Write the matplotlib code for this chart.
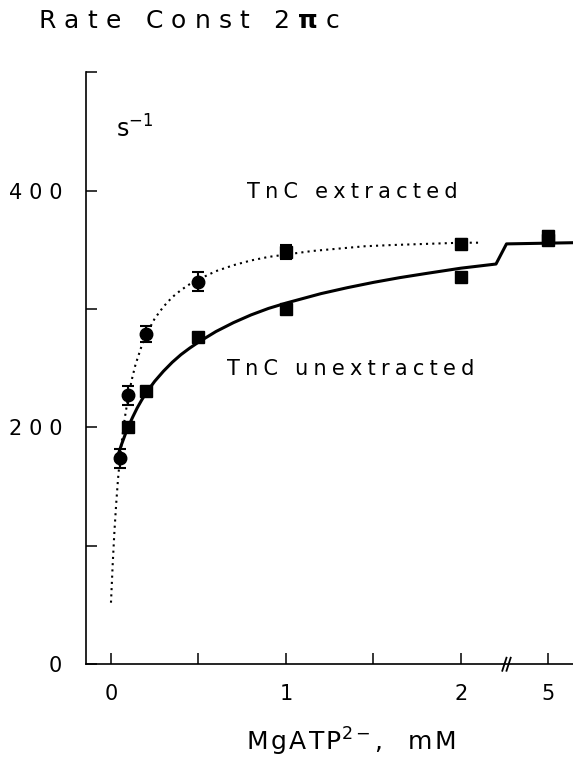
import numpy as np
import matplotlib
matplotlib.use("Agg")
import matplotlib.pyplot as plt

plt.rcParams["font.family"] = ["DejaVu Sans"]
plt.rcParams["mathtext.fontset"] = "dejavusans"

# MgATP2- (mM) vs rate constant 2*pi*c (s^-1)
EXT_X = [0.05, 0.1, 0.2, 0.5, 1.0, 2.0, 5.0]
EXT_Y = [174, 227, 279, 323, 348, 355, 362]
EXT_ERR = [8, 8, 7, 8, 6, 4, 4]
UNEXT_X = [0.1, 0.2, 0.5, 1.0, 2.0, 5.0]
UNEXT_Y = [200, 231, 276, 300, 327, 358]

# fitted curves
FIT_EXT_X = [0.0, 0.01, 0.02, 0.03, 0.04, 0.05, 0.06, 0.07, 0.08, 0.09, 0.1, 0.12, 0.14,
             0.16, 0.18, 0.2, 0.25, 0.3, 0.35, 0.4, 0.45, 0.5, 0.6, 0.7, 0.8, 0.9, 1.0,
             1.15, 1.3, 1.45, 1.6, 1.8, 2.0, 2.12]
FIT_EXT_Y = [52, 85, 113, 136, 156, 172, 186, 198, 209, 218, 227, 241, 253,
             262, 271, 278, 292, 302, 310, 316, 321, 325, 332, 337, 341, 344, 346,
             349, 351, 353, 354, 355, 356, 356]
FIT_UNEXT_X = [0.03, 0.04, 0.05, 0.06, 0.07, 0.08, 0.09, 0.1, 0.125, 0.15, 0.175, 0.2,
               0.25, 0.3, 0.35, 0.4, 0.45, 0.5, 0.6, 0.7, 0.8, 0.9, 1.0, 1.1, 1.2,
               1.35, 1.5, 1.65, 1.8, 2.0, 2.2, 4.76, 5.14]
FIT_UNEXT_Y = [172, 176.5, 181, 185.5, 189.5, 193.5, 197.5, 201, 209, 216.5, 223, 229,
               239, 247.5, 255, 261.5, 267, 272, 281, 288.5, 295, 300.5, 305, 309, 313,
               318, 322.5, 326.5, 330, 334.5, 338, 355, 356]

XTICKS = [0, 0.5, 1, 1.5, 2, 5]
XTICKLABELS = ["0", "", "1", "", "2", "5"]
YTICKS = [0, 100, 200, 300, 400, 500]
YTICKLABELS = ["0", "", "200", "", "400", ""]

BREAK_AT = 3.0   # x above this is drawn right of the axis break
SHIFT = 2.5      # 5 mM sits at 2.5 on the drawn axis
BREAK_POS = 2.26


def pos(x):
    x = np.asarray(x, float)
    return np.where(x > BREAK_AT, x - SHIFT, x)


def spaced(s, gap="\u2005"):
    # plotter font of the original is widely letter-spaced
    return gap.join(s)


fig = plt.figure(figsize=(5.73, 7.6), dpi=100)
ax = fig.add_axes([0.150, 0.126, 0.850, 0.779])

ax.plot(pos(FIT_EXT_X), FIT_EXT_Y, color="black", lw=1.5, ls=(0, (1, 2)))
ax.plot(pos(FIT_UNEXT_X), FIT_UNEXT_Y, color="black", lw=2.2, solid_joinstyle="round")

ex, ey, ee = np.array(EXT_X), np.array(EXT_Y), np.array(EXT_ERR)
lo = ex < 0.8
ax.errorbar(pos(ex), ey, yerr=ee, fmt="none", ecolor="black", elinewidth=1.5, capsize=4, capthick=1.5)
ax.plot(pos(ex[lo]), ey[lo], "o", color="black", ms=9)
ax.plot(pos(ex[~lo]), ey[~lo], "s", color="black", ms=8)
ax.plot(pos(UNEXT_X), UNEXT_Y, "s", color="black", ms=8)

ax.set_xlim(-0.143, 2.64)
ax.set_ylim(0, 500)
ax.set_xticks(pos(XTICKS))
ax.set_xticklabels(XTICKLABELS)
ax.set_yticks(YTICKS)
ax.set_yticklabels([spaced(t, "\u2004") for t in YTICKLABELS])
ax.tick_params(direction="in", length=8, width=1.1, labelsize=15, colors="black")
ax.tick_params(axis="y", pad=17)
ax.tick_params(axis="x", pad=14)
for side in ("top", "right"):
    ax.spines[side].set_visible(False)
for side in ("left", "bottom"):
    ax.spines[side].set_linewidth(1.2)

# axis break marks
tr = ax.get_xaxis_transform()
for dx in (-0.012, 0.012):
    ax.plot([BREAK_POS + dx - 0.012, BREAK_POS + dx + 0.012], [-0.011, 0.011],
            color="black", lw=1.3, transform=tr, clip_on=False)

ax.text(0.03, 445, "s$^{-1}$", fontsize=17, ha="left", va="baseline")
ax.text(0.777, 394, spaced("TnC extracted"), fontsize=15, ha="left", va="baseline")
ax.text(0.663, 244, spaced("TnC unextracted"), fontsize=15, ha="left", va="baseline")

fig.text(38 / 573, 1 - 28 / 760, spaced("Rate Const 2", "\u2004") + "\u2004$\\mathbf{\\pi}$\u2004c",
         fontsize=18, ha="left", va="baseline")
fig.text(351 / 573, 1 - 751 / 760, spaced("MgATP", "\u200a") + "$^{2-}$,\u2002\u2002" + spaced("mM", "\u200a"),
         fontsize=18, ha="center", va="baseline")

fig.savefig("out.png", dpi=100)
